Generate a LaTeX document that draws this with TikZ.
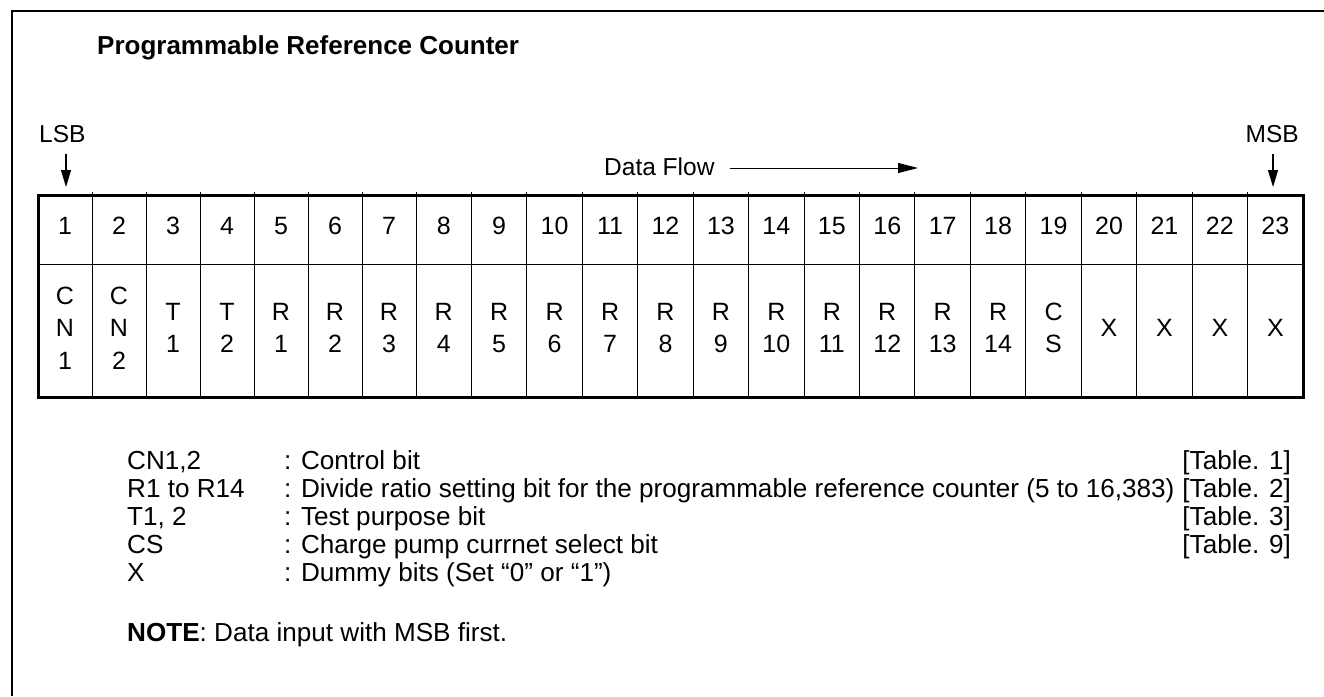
\documentclass[tikz,border=0pt]{standalone}
\usepackage{fontspec}
\setmainfont{Liberation Sans}
\usepackage{tikz}
\usetikzlibrary{arrows.meta}
\tikzstyle{arrow} = [line width=1.3pt,-{Triangle[length=17pt,width=10pt]}]
\tikzstyle{flowarrow} = [line width=1pt,-{Triangle[length=20pt,width=10pt]}]
\tikzstyle{txt} = [inner sep=0pt, font=\fontsize{24.5}{28}\selectfont]
\tikzstyle{cell} = [inner sep=0pt, align=center, font=\fontsize{25}{32.5}\selectfont]
\tikzstyle{legend} = [inner sep=0pt, anchor=base west, font=\fontsize{26.1}{28}\selectfont]

\begin{document}
\begin{tikzpicture}[x=1pt, y=-1pt]
	\useasboundingbox (0,0) rectangle (1324,696);
	\draw [line width=2pt] (12,696) -- (12,11) -- (1324,11);
	\node (title) [txt, anchor=base west, font=\fontsize{26}{28}\selectfont\bfseries] at (97,54) {Programmable Reference Counter};
	\node (lsb) [txt, anchor=base west] at (39,142) {LSB};
	\node (msb) [txt, anchor=base east] at (1299,142) {MSB};
	\coordinate (lsbtip) at (66,187);
	\coordinate (msbtip) at (1273,187);
	\draw [arrow] ([yshift=-12pt]lsb.south -| lsbtip) -- (lsbtip);
	\draw [arrow] ([yshift=-12pt]msb.south -| msbtip) -- (msbtip);
	\node (flow) [txt, anchor=base west] at (604,175) {Data Flow};
	\coordinate (flowtip) at (918,168);
	\draw [flowarrow] ([xshift=15pt]flow.east |- flowtip) -- (flowtip);
	\draw [line width=3pt] (38,195) rectangle (1303,397);
	\draw [line width=1pt] (38,264) -- (1303,264);
	\foreach \k in {1,...,22} {
		\pgfmathsetmacro\xb{ifthenelse(\k<8, 38+54*\k, 416+55.44*(\k-7))}
		\draw [line width=1pt] (\xb,192) -- (\xb,397);
	}
	\foreach \lab [count=\i] in {{C\\N\\1},{C\\N\\2},{T\\1},{T\\2},{R\\1},{R\\2},{R\\3},{R\\4},{R\\5},{R\\6},{R\\7},{R\\8},{R\\9},{R\\10},{R\\11},{R\\12},{R\\13},{R\\14},{C\\S},X,X,X,X} {
		\pgfmathsetmacro\xl{ifthenelse(\i<9, 38+54*(\i-1), 416+55.44*(\i-8))}
		\pgfmathsetmacro\xr{ifthenelse(\i<8, 38+54*\i, 416+55.44*(\i-7))}
		\pgfmathsetmacro\xc{(\xl+\xr)/2}
		\node (num\i) [cell] at (\xc,226) {\i};
		\node (bit\i) [cell] at (\xc,328) {\lab};
	}
	\foreach \key/\desc/\tab [count=\j] in {{CN1,2}/{: Control bit}/{[Table. 1]},
		{R1 to R14}/{: Divide ratio setting bit for the programmable reference counter (5 to 16,383)}/{[Table. 2]},
		{T1, 2}/{: Test purpose bit}/{[Table. 3]},
		{CS}/{: Charge pump currnet select bit}/{[Table. 9]},
		{X}/{: Dummy bits (Set “0” or “1”)}/{}} {
		\pgfmathsetmacro\yb{469+28*(\j-1)}
		\node (key\j) [legend] at (127,\yb) {\key};
		\node (desc\j) [legend] at (284,\yb) {\desc};
		\node (tab\j) [legend, anchor=base east] at (1291,\yb) {\tab};
	}
	\node (note) [legend] at (127,641) {\textbf{NOTE}: Data input with MSB first.};
\end{tikzpicture}
\end{document}
